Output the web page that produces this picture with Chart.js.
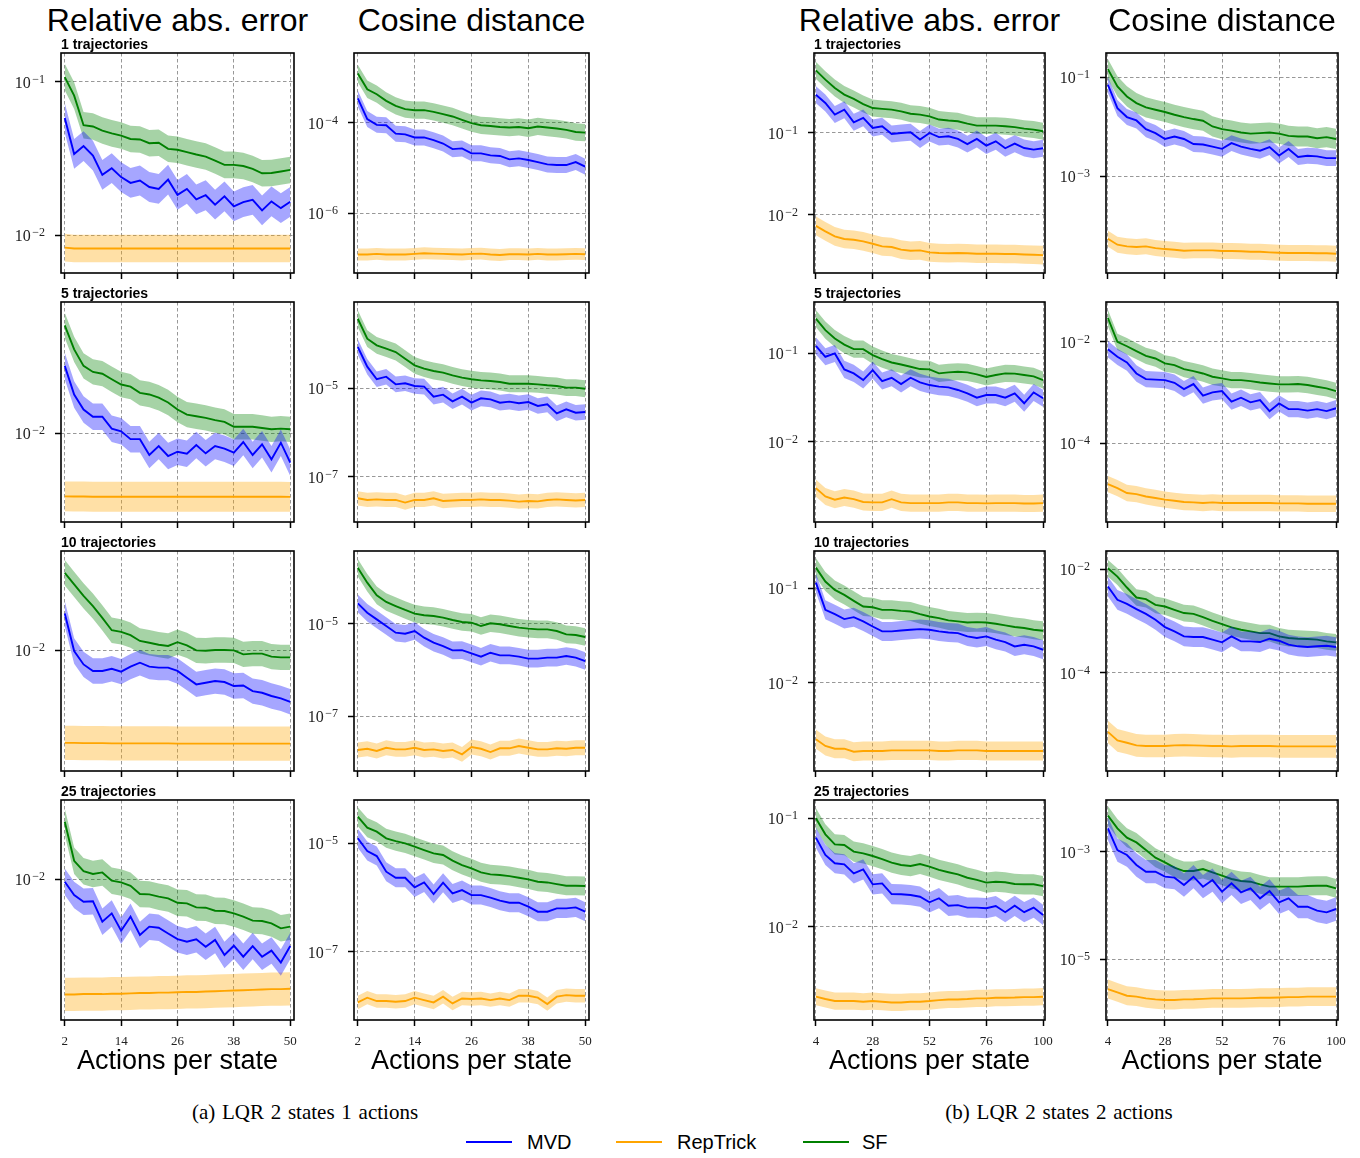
<!DOCTYPE html>
<html>
<head>
<meta charset="utf-8">
<title>LQR estimator errors</title>
<script src="https://cdn.jsdelivr.net/npm/chart.js@4.4.0/dist/chart.umd.min.js"></script>
<style>
body { margin: 0; background: #fff; }
#page { position: relative; width: 1360px; height: 1158px; overflow: hidden; font-family: "Liberation Sans", Arial, sans-serif; color: #000; }
#page canvas { position: absolute; }
.colTitle { position: absolute; top: 1px; width: 320px; text-align: center; font-size: 32px; line-height: 38px; white-space: nowrap; }
.traj { position: absolute; font-size: 14px; font-weight: bold; line-height: 16px; white-space: nowrap; }
.xlab { position: absolute; top: 1045px; width: 320px; text-align: center; font-size: 27px; line-height: 31px; white-space: nowrap; }
.caption { position: absolute; top: 1099px; width: 400px; text-align: center; font-family: "Liberation Serif", "Times New Roman", serif; font-size: 21px; word-spacing: 1.5px; line-height: 26px; }
.leg { position: absolute; top: 1130px; font-size: 20px; line-height: 24px; }
.legLine { position: absolute; top: 1141px; width: 46px; height: 2px; }
</style>
</head>
<body>
<div id="page"></div>
<script>
// x values (actions per state)
var xLeft = [2,4,6,8,10,12,14,16,18,20,22,24,26,28,30,32,34,36,38,40,42,44,46,48,50];
var xRight = [4,8,12,16,20,24,28,32,36,40,44,48,52,56,60,64,68,72,76,80,84,88,92,96,100];
var xTicksLeft = [2,14,26,38,50];
var xTicksRight = [4,28,52,76,100];

var colTitles = ['Relative abs. error', 'Cosine distance', 'Relative abs. error', 'Cosine distance'];
var trajLabels = ['1 trajectories', '5 trajectories', '10 trajectories', '25 trajectories'];
var captions = ['(a) LQR 2 states 1 actions', '(b) LQR 2 states 2 actions'];
var seriesNames = ['MVD', 'RepTrick', 'SF'];

// ---- 1 trajectory ----
var mvdARel1 = [0.058,0.0338,0.038,0.033,0.0247,0.0273,0.0239,0.0219,0.0227,0.0206,0.020,0.023,0.0183,0.020,0.0171,0.0182,0.0158,0.0179,0.0154,0.0164,0.017,0.0145,0.0166,0.015,0.0165];
var repARel1 = [0.0083,0.0082,0.0082,0.0082,0.0082,0.0082,0.0082,0.0082,0.0082,0.0082,0.0082,0.0082,0.0082,0.0082,0.0082,0.0082,0.0082,0.0082,0.0082,0.0082,0.0082,0.0082,0.0082,0.0082,0.0082];
var sfARel1 = [0.107,0.081,0.052,0.051,0.048,0.046,0.0445,0.0423,0.042,0.0397,0.040,0.0365,0.036,0.0347,0.0335,0.0325,0.0306,0.0287,0.0287,0.0282,0.027,0.0253,0.0254,0.026,0.0266];
var spreadARel1 = [1.25, 1.23, 1.22];
var yExpARel1 = [-2.246, -0.814];
var decARel1 = [-1, -2];

var mvdACos1 = [3.4e-4,1.19e-4,8.9e-5,8.7e-5,5.7e-5,5.5e-5,4.7e-5,4.7e-5,4.1e-5,3.45e-5,2.6e-5,2.7e-5,2.1e-5,2.1e-5,1.9e-5,1.84e-5,1.55e-5,1.63e-5,1.5e-5,1.35e-5,1.2e-5,1.16e-5,1.16e-5,1.35e-5,1.07e-5];
var repACos1 = [1.25e-7,1.25e-7,1.29e-7,1.25e-7,1.25e-7,1.25e-7,1.29e-7,1.33e-7,1.31e-7,1.29e-7,1.27e-7,1.25e-7,1.29e-7,1.31e-7,1.25e-7,1.22e-7,1.27e-7,1.27e-7,1.25e-7,1.29e-7,1.25e-7,1.25e-7,1.27e-7,1.29e-7,1.27e-7];
var sfACos1 = [1.2e-3,5.4e-4,4.2e-4,3.0e-4,2.33e-4,1.97e-4,1.87e-4,1.87e-4,1.72e-4,1.53e-4,1.36e-4,1.15e-4,9.7e-5,8.7e-5,8.4e-5,8.0e-5,7.76e-5,8.0e-5,7.5e-5,8.2e-5,7.76e-5,7.4e-5,6.9e-5,6.2e-5,6.0e-5];
var spreadACos1 = [1.5, 1.35, 1.55];
var yExpACos1 = [-7.31, -2.47];
var decACos1 = [-4, -6];

var mvdBRel1 = [0.294,0.233,0.168,0.193,0.135,0.153,0.115,0.121,0.097,0.100,0.102,0.083,0.100,0.089,0.091,0.0845,0.073,0.0845,0.070,0.079,0.065,0.074,0.0655,0.0625,0.065];
var repBRel1 = [0.0073,0.00625,0.00543,0.00504,0.00494,0.00471,0.00441,0.00409,0.00402,0.00373,0.00362,0.00366,0.00346,0.0034,0.00337,0.0034,0.00337,0.00333,0.00333,0.00333,0.0033,0.0033,0.00326,0.00323,0.0032];
var sfBRel1 = [0.585,0.45,0.356,0.295,0.261,0.226,0.202,0.197,0.193,0.184,0.172,0.168,0.16,0.146,0.142,0.139,0.13,0.123,0.123,0.123,0.121,0.118,0.113,0.11,0.105];
var spreadBRel1 = [1.27, 1.3, 1.27];
var yExpBRel1 = [-2.714, -0.021];
var decBRel1 = [-1, -2];

var mvdBCos1 = [0.071,0.024,0.0158,0.0135,0.009,0.0075,0.0057,0.0064,0.0057,0.0045,0.0044,0.004,0.0036,0.0047,0.004,0.0036,0.0033,0.0039,0.00265,0.00357,0.00246,0.00262,0.00254,0.00234,0.00234];
var repBCos1 = [5.5e-5,4.17e-5,3.86e-5,3.74e-5,3.86e-5,3.56e-5,3.4e-5,3.3e-5,3.15e-5,3.2e-5,3.2e-5,3.2e-5,3.1e-5,3.1e-5,3.07e-5,3.0e-5,3.0e-5,2.92e-5,2.87e-5,2.83e-5,2.83e-5,2.83e-5,2.79e-5,2.79e-5,2.74e-5];
var sfBCos1 = [0.147,0.0658,0.0413,0.0303,0.0248,0.0222,0.02,0.0176,0.0158,0.0144,0.0133,0.0102,0.009,0.0084,0.0077,0.0073,0.0075,0.0077,0.0073,0.0066,0.0064,0.0064,0.0059,0.0062,0.0057];
var spreadBCos1 = [1.45, 1.45, 1.6];
var yExpBCos1 = [-4.952, -0.507];
var decBCos1 = [-1, -3];

// ---- 5 trajectories ----
var mvdARel5 = [0.0264,0.0175,0.0141,0.0127,0.0127,0.0107,0.0103,0.0092,0.0092,0.00733,0.00833,0.00722,0.00768,0.00746,0.00846,0.0075,0.00833,0.00802,0.00757,0.00883,0.00733,0.00854,0.00688,0.00874,0.00656];
var repARel5 = [0.00404,0.00403,0.00403,0.00402,0.00402,0.00402,0.00402,0.00402,0.00402,0.00402,0.00402,0.00402,0.00402,0.00402,0.00402,0.00402,0.00402,0.00402,0.00402,0.00402,0.00402,0.00402,0.00402,0.00402,0.00401];
var sfARel5 = [0.0473,0.0335,0.0264,0.0242,0.0236,0.0218,0.0202,0.0196,0.0179,0.0175,0.0167,0.0156,0.0141,0.0131,0.0128,0.0125,0.0121,0.0118,0.011,0.011,0.011,0.0108,0.0106,0.0107,0.0106];
var spreadARel5 = [1.21, 1.24, 1.2];
var yExpARel5 = [-2.554, -1.179];
var decARel5 = [-2];

var mvdACos5 = [8.55e-5,3.08e-5,1.6e-5,1.83e-5,1.23e-5,1.3e-5,1.13e-5,1.09e-5,6.5e-6,7.2e-6,5.1e-6,6.5e-6,4.75e-6,5.95e-6,5.65e-6,4.75e-6,5.0e-6,4.6e-6,4.9e-6,4.0e-6,4.35e-6,2.73e-6,3.36e-6,2.82e-6,2.92e-6];
var repACos5 = [3.3e-8,3.03e-8,3.13e-8,3.03e-8,3.03e-8,2.64e-8,3.03e-8,3.03e-8,3.3e-8,2.87e-8,2.95e-8,3.03e-8,3.03e-8,3.13e-8,3.03e-8,3.03e-8,2.93e-8,2.78e-8,2.87e-8,2.82e-8,3.03e-8,3.13e-8,3.03e-8,2.95e-8,3.03e-8];
var sfACos5 = [3.72e-4,1.32e-4,9.33e-5,7.85e-5,6.6e-5,4.67e-5,3.3e-5,2.78e-5,2.46e-5,2.26e-5,1.96e-5,1.74e-5,1.6e-5,1.51e-5,1.46e-5,1.39e-5,1.27e-5,1.27e-5,1.27e-5,1.23e-5,1.17e-5,1.13e-5,1.035e-5,1.035e-5,9.8e-6];
var spreadACos5 = [1.5, 1.45, 1.55];
var yExpACos5 = [-8.016, -3.052];
var decACos5 = [-5, -7];

var mvdBRel5 = [0.122,0.0917,0.1,0.0659,0.0594,0.0499,0.0647,0.0486,0.053,0.045,0.053,0.047,0.0438,0.042,0.0412,0.0385,0.0353,0.0315,0.0337,0.0337,0.0315,0.0353,0.0272,0.0361,0.031];
var repBRel5 = [0.00296,0.00238,0.00219,0.00232,0.00222,0.00206,0.00204,0.00204,0.00222,0.00204,0.002,0.002,0.002,0.002,0.00204,0.00204,0.002,0.002,0.00199,0.002,0.002,0.002,0.00198,0.00198,0.002];
var sfBRel5 = [0.249,0.184,0.148,0.126,0.112,0.112,0.0958,0.0863,0.079,0.075,0.0706,0.0665,0.0659,0.0594,0.061,0.062,0.061,0.0578,0.054,0.0569,0.0594,0.059,0.0569,0.055,0.0499];
var spreadBRel5 = [1.25, 1.25, 1.25];
var yExpBRel5 = [-2.913, -0.416];
var decBRel5 = [-1, -2];

var mvdBCos5 = [0.00717,0.00507,0.00392,0.00238,0.00184,0.0018,0.00176,0.00156,0.00117,0.00147,0.00087,0.00101,0.00107,0.00066,0.00079,0.00064,0.00071,0.00043,0.00061,0.00047,0.00047,0.00044,0.00047,0.00043,0.00049];
var repBCos5 = [1.56e-5,1.3e-5,1.04e-5,9.9e-6,8.9e-6,8.3e-6,7.7e-6,7.3e-6,6.9e-6,6.8e-6,6.6e-6,6.8e-6,6.6e-6,6.6e-6,6.6e-6,6.6e-6,6.6e-6,6.6e-6,6.5e-6,6.5e-6,6.5e-6,6.4e-6,6.4e-6,6.4e-6,6.4e-6];
var sfBCos5 = [0.0296,0.01,0.0082,0.00655,0.0053,0.0047,0.00375,0.00348,0.0029,0.00265,0.00238,0.00205,0.0019,0.00176,0.00176,0.00168,0.00158,0.00151,0.00145,0.00145,0.00147,0.00141,0.0013,0.00121,0.00107];
var spreadBCos5 = [1.45, 1.45, 1.45];
var yExpBCos5 = [-5.555, -1.213];
var decBCos5 = [-2, -4];

// ---- 10 trajectories ----
var mvdARel10 = [0.0169,0.00986,0.00813,0.0074,0.0074,0.00764,0.00733,0.00787,0.00833,0.00787,0.00776,0.00776,0.0074,0.00672,0.0061,0.00625,0.0064,0.00631,0.00596,0.006,0.00554,0.00541,0.00516,0.00499,0.00475];
var repARel10 = [0.00263,0.00263,0.00262,0.00262,0.00262,0.00261,0.00261,0.00261,0.00261,0.00261,0.00261,0.00261,0.0026,0.0026,0.0026,0.0026,0.0026,0.0026,0.0026,0.0026,0.0026,0.0026,0.0026,0.0026,0.0026];
var sfARel10 = [0.0304,0.0257,0.0218,0.0188,0.0159,0.0133,0.013,0.0124,0.0114,0.0111,0.0108,0.0106,0.0112,0.0107,0.00995,0.0099,0.01,0.01,0.00995,0.0094,0.0095,0.0095,0.0091,0.009,0.009];
var spreadARel10 = [1.2, 1.28, 1.2];
var yExpARel10 = [-2.756, -1.381];
var decARel10 = [-2];

var mvdACos10 = [2.75e-5,1.73e-5,1.24e-5,8.9e-6,6.38e-6,6.07e-6,6.93e-6,4.98e-6,3.88e-6,3.28e-6,2.64e-6,2.68e-6,2.28e-6,1.93e-6,2.35e-6,2.06e-6,2.06e-6,1.93e-6,1.75e-6,1.75e-6,1.84e-6,1.84e-6,2.0e-6,1.84e-6,1.55e-6];
var repACos10 = [1.84e-8,1.96e-8,1.75e-8,2.06e-8,1.9e-8,1.9e-8,2.06e-8,1.84e-8,1.9e-8,1.75e-8,1.84e-8,1.48e-8,2.13e-8,1.96e-8,1.66e-8,2.0e-8,2.0e-8,2.24e-8,2.06e-8,1.9e-8,1.9e-8,2.0e-8,1.96e-8,2.06e-8,2.06e-8];
var sfACos10 = [1.63e-4,7.73e-5,4.11e-5,2.95e-5,2.41e-5,1.98e-5,1.65e-5,1.52e-5,1.47e-5,1.35e-5,1.2e-5,1.09e-5,1.05e-5,8.9e-6,1.02e-5,9.7e-6,8.9e-6,8.2e-6,7.8e-6,7.53e-6,7.53e-6,6.93e-6,5.87e-6,5.69e-6,5.14e-6];
var spreadACos10 = [1.55, 1.45, 1.55];
var yExpACos10 = [-8.19, -3.426];
var decACos10 = [-5, -7];

var mvdBRel10 = [0.1147,0.0591,0.0532,0.0472,0.0495,0.0446,0.0394,0.035,0.035,0.0358,0.0364,0.037,0.0364,0.035,0.0341,0.0336,0.031,0.0298,0.031,0.0286,0.027,0.0243,0.0253,0.0243,0.0224];
var repBRel10 = [0.00254,0.00216,0.00202,0.00202,0.00188,0.00191,0.00191,0.00191,0.00194,0.00194,0.00194,0.00194,0.00194,0.00191,0.00191,0.00194,0.00194,0.00194,0.00191,0.00191,0.00191,0.00191,0.00191,0.00191,0.00191];
var sfBRel10 = [0.165,0.1175,0.096,0.085,0.0736,0.0641,0.063,0.0591,0.0591,0.0577,0.0568,0.0532,0.0503,0.0483,0.0457,0.0446,0.0435,0.0438,0.0435,0.0422,0.0405,0.0389,0.038,0.0364,0.0356];
var spreadBRel10 = [1.26, 1.26, 1.26];
var yExpBRel10 = [-2.93, -0.607];
var decBRel10 = [-1, -2];

var mvdBCos10 = [0.00465,0.00257,0.00215,0.0017,0.00138,0.00106,0.000767,0.000632,0.000507,0.000492,0.000492,0.000438,0.000389,0.000507,0.000406,0.000406,0.000394,0.000457,0.000418,0.000351,0.000326,0.000316,0.000326,0.000335,0.000316];
var repBCos10 = [7.3e-6,5.0e-6,4.5e-6,4.0e-6,3.9e-6,3.9e-6,3.9e-6,4.0e-6,4.05e-6,4.0e-6,3.95e-6,3.9e-6,3.9e-6,3.83e-6,3.9e-6,3.9e-6,3.9e-6,3.9e-6,3.83e-6,3.83e-6,3.83e-6,3.83e-6,3.83e-6,3.83e-6,3.83e-6];
var sfBCos10 = [0.01045,0.00723,0.00444,0.00285,0.00265,0.00206,0.00191,0.00165,0.00143,0.00138,0.00119,0.00101,0.000875,0.000755,0.000681,0.000632,0.000587,0.000587,0.000507,0.000471,0.000457,0.000451,0.000438,0.000406,0.000389];
var spreadBCos10 = [1.55, 1.65, 1.45];
var yExpBCos10 = [-5.892, -1.648];
var decBCos10 = [-2, -4];

// ---- 25 trajectories ----
var mvdARel25 = [0.00962,0.00794,0.00722,0.00727,0.00541,0.0061,0.00475,0.00582,0.00447,0.00504,0.00496,0.00457,0.00421,0.00406,0.0042,0.00377,0.00416,0.00335,0.00383,0.00327,0.00381,0.00327,0.00357,0.00301,0.00381];
var repARel25 = [0.0019,0.0019,0.00191,0.00191,0.00191,0.00192,0.00192,0.00193,0.00194,0.00194,0.00195,0.00195,0.00196,0.00197,0.00197,0.00198,0.00199,0.002,0.00201,0.00202,0.00203,0.00204,0.00205,0.00205,0.00206];
var sfARel25 = [0.0228,0.013,0.0112,0.01075,0.011,0.00977,0.00953,0.00908,0.00806,0.00802,0.00776,0.00757,0.00711,0.00705,0.00665,0.00662,0.00634,0.00631,0.0061,0.00582,0.0055,0.00547,0.00528,0.00492,0.00504];
var spreadARel25 = [1.21, 1.27, 1.21];
var yExpARel25 = [-2.881, -1.506];
var decARel25 = [-2];

var mvdACos25 = [1.24e-5,7.22e-6,5.83e-6,3.0e-6,2.32e-6,2.32e-6,1.54e-6,1.9e-6,1.16e-6,1.88e-6,1.19e-6,1.37e-6,1.11e-6,1.11e-6,1.0e-6,8.75e-7,8.03e-7,8.03e-7,6.78e-7,5.48e-7,5.48e-7,6.31e-7,6.31e-7,6.58e-7,5.48e-7];
var repACos25 = [1.16e-8,1.42e-8,1.23e-8,1.23e-8,1.19e-8,1.23e-8,1.42e-8,1.28e-8,1.16e-8,1.48e-8,1.11e-8,1.37e-8,1.34e-8,1.37e-8,1.28e-8,1.37e-8,1.28e-8,1.54e-8,1.54e-8,1.42e-8,1.08e-8,1.48e-8,1.58e-8,1.54e-8,1.54e-8];
var sfACos25 = [3.1e-5,1.95e-5,1.64e-5,1.24e-5,1.1e-5,1.0e-5,8.68e-6,7.53e-6,6.53e-6,6.09e-6,4.79e-6,3.98e-6,3.45e-6,2.92e-6,2.68e-6,2.6e-6,2.49e-6,2.32e-6,2.16e-6,1.96e-6,1.9e-6,1.77e-6,1.65e-6,1.65e-6,1.63e-6];
var spreadACos25 = [1.5, 1.33, 1.5];
var yExpACos25 = [-8.26, -4.2];
var decACos25 = [-5, -7];

var mvdBRel25 = [0.0663,0.0459,0.0385,0.0376,0.031,0.0338,0.0246,0.0251,0.02,0.0199,0.0196,0.0189,0.0168,0.0183,0.0156,0.0158,0.015,0.015,0.0148,0.0155,0.0136,0.0156,0.0136,0.015,0.0128];
var repBRel25 = [0.00226,0.00215,0.00206,0.00206,0.00206,0.00203,0.00206,0.00203,0.002,0.002,0.00203,0.00203,0.00206,0.0021,0.00213,0.00213,0.00215,0.00218,0.00218,0.00221,0.00221,0.00222,0.00224,0.00224,0.00226];
var sfBRel25 = [0.1,0.0712,0.0575,0.0567,0.0493,0.0475,0.0449,0.0421,0.039,0.0371,0.0363,0.0379,0.0358,0.0334,0.0318,0.0304,0.0283,0.027,0.0255,0.026,0.0257,0.0248,0.0246,0.0246,0.0237];
var spreadBRel25 = [1.24, 1.2, 1.24];
var yExpBRel25 = [-2.861, -0.831];
var decBRel25 = [-1, -2];

var mvdBCos25 = [0.00272,0.00107,0.000867,0.000565,0.000424,0.000424,0.000342,0.000328,0.000239,0.000342,0.000223,0.000296,0.00018,0.000257,0.000175,0.000207,0.000135,0.000185,0.000114,0.000135,9.44e-5,9.44e-5,7.96e-5,7.41e-5,8.55e-5];
var repBCos25 = [2.76e-6,2.39e-6,2.07e-6,1.99e-6,1.85e-6,1.77e-6,1.72e-6,1.72e-6,1.77e-6,1.78e-6,1.81e-6,1.85e-6,1.85e-6,1.85e-6,1.85e-6,1.87e-6,1.9e-6,1.9e-6,1.92e-6,1.95e-6,1.95e-6,1.99e-6,1.99e-6,1.99e-6,1.99e-6];
var sfBCos25 = [0.00469,0.00272,0.00182,0.00149,0.00107,0.000773,0.000632,0.000503,0.000436,0.000436,0.000475,0.000412,0.000357,0.00031,0.000284,0.000276,0.000246,0.000223,0.000223,0.000223,0.000223,0.000229,0.000232,0.000232,0.000207];
var spreadBCos25 = [1.65, 1.5, 1.5];
var yExpBCos25 = [-6.136, -2.037];
var decBCos25 = [-3, -5];

// layout of the 4x4 grid of panels (page pixels)
var colLeft = [61, 354, 814, 1106];
var colWidth = [233, 235, 231, 232];
var rowTop = [53, 302, 551, 800];
var rowHeight = 220;
var yAxisW = 56;

var lineColors = ['#0000ff', '#ffa500', '#008000'];
var bandColors = ['rgba(0,0,255,0.35)', 'rgba(255,165,0,0.35)', 'rgba(0,128,0,0.35)'];

var panels = [
	{row:0, col:0, mvd:mvdARel1, rep:repARel1, sf:sfARel1, spread:spreadARel1, yExp:yExpARel1, dec:decARel1},
	{row:0, col:1, mvd:mvdACos1, rep:repACos1, sf:sfACos1, spread:spreadACos1, yExp:yExpACos1, dec:decACos1},
	{row:0, col:2, mvd:mvdBRel1, rep:repBRel1, sf:sfBRel1, spread:spreadBRel1, yExp:yExpBRel1, dec:decBRel1},
	{row:0, col:3, mvd:mvdBCos1, rep:repBCos1, sf:sfBCos1, spread:spreadBCos1, yExp:yExpBCos1, dec:decBCos1},
	{row:1, col:0, mvd:mvdARel5, rep:repARel5, sf:sfARel5, spread:spreadARel5, yExp:yExpARel5, dec:decARel5},
	{row:1, col:1, mvd:mvdACos5, rep:repACos5, sf:sfACos5, spread:spreadACos5, yExp:yExpACos5, dec:decACos5},
	{row:1, col:2, mvd:mvdBRel5, rep:repBRel5, sf:sfBRel5, spread:spreadBRel5, yExp:yExpBRel5, dec:decBRel5},
	{row:1, col:3, mvd:mvdBCos5, rep:repBCos5, sf:sfBCos5, spread:spreadBCos5, yExp:yExpBCos5, dec:decBCos5},
	{row:2, col:0, mvd:mvdARel10, rep:repARel10, sf:sfARel10, spread:spreadARel10, yExp:yExpARel10, dec:decARel10},
	{row:2, col:1, mvd:mvdACos10, rep:repACos10, sf:sfACos10, spread:spreadACos10, yExp:yExpACos10, dec:decACos10},
	{row:2, col:2, mvd:mvdBRel10, rep:repBRel10, sf:sfBRel10, spread:spreadBRel10, yExp:yExpBRel10, dec:decBRel10},
	{row:2, col:3, mvd:mvdBCos10, rep:repBCos10, sf:sfBCos10, spread:spreadBCos10, yExp:yExpBCos10, dec:decBCos10},
	{row:3, col:0, mvd:mvdARel25, rep:repARel25, sf:sfARel25, spread:spreadARel25, yExp:yExpARel25, dec:decARel25},
	{row:3, col:1, mvd:mvdACos25, rep:repACos25, sf:sfACos25, spread:spreadACos25, yExp:yExpACos25, dec:decACos25},
	{row:3, col:2, mvd:mvdBRel25, rep:repBRel25, sf:sfBRel25, spread:spreadBRel25, yExp:yExpBRel25, dec:decBRel25},
	{row:3, col:3, mvd:mvdBCos25, rep:repBCos25, sf:sfBCos25, spread:spreadBCos25, yExp:yExpBCos25, dec:decBCos25}
];

// frame round the plot area + "10^e" labels drawn with a raised exponent
var framePlugin = {
	id: 'frame',
	afterDraw: function (chart) {
		var a = chart.chartArea;
		var ctx = chart.ctx;
		var ys = chart.scales.y;
		ctx.save();
		ctx.strokeStyle = '#000';
		ctx.lineWidth = 1.6;
		ctx.strokeRect(a.left, a.top, a.right - a.left, a.bottom - a.top);

		ctx.fillStyle = '#222';
		ctx.textBaseline = 'alphabetic';
		ctx.textAlign = 'right';
		ys.ticks.forEach(function (t) {
			var py = ys.getPixelForValue(t.value);
			var e = '\u2212' + Math.abs(Math.round(Math.log10(t.value)));
			ctx.font = '12px "Liberation Serif"';
			var ew = ctx.measureText(e).width;
			var xr = a.left - 16;
			ctx.fillText(e, xr, py + 1);
			ctx.font = '16px "Liberation Serif"';
			ctx.fillText('10', xr - ew - 1.5, py + 6);
		});
		ctx.restore();
	}
};

function points(x, values, factor) {
	var pts = [];
	for (var i = 0; i < values.length; i++) {
		pts.push({x: x[i], y: values[i] * factor});
	}
	return pts;
}

// band (hi filled down to lo) followed by the mean line, for one series
function seriesDatasets(x, values, spread, k, order) {
	return [
		{data: points(x, values, spread), fill: '+1', backgroundColor: bandColors[k], borderWidth: 0, pointRadius: 0, order: order + 1},
		{data: points(x, values, 1 / spread), fill: false, borderWidth: 0, pointRadius: 0, order: order + 1},
		{data: points(x, values, 1), fill: false, borderColor: lineColors[k], borderWidth: 1.9, pointRadius: 0, order: order}
	];
}

function gridOpts() {
	return {color: '#8c8c8c', lineWidth: 0.9, drawTicks: true, tickLength: 6, tickWidth: 1.5, tickColor: '#000', tickBorderDash: []};
}

function fixSize(s, w, h) {
	if (w !== null) s.width = w;
	if (h !== null) s.height = h;
	s.paddingLeft = 0;
	s.paddingRight = 0;
	s.paddingTop = 0;
	s.paddingBottom = 0;
}

function buildPanel(page, p) {
	var right = p.col >= 2;
	var x = right ? xRight : xLeft;
	var xTicks = right ? xTicksRight : xTicksLeft;
	var bottomRow = p.row === 3;
	var xAxisH = bottomRow ? 30 : 8;
	var W = colWidth[p.col] + yAxisW + 12;
	var H = rowHeight + 4 + xAxisH;

	var canvas = document.createElement('canvas');
	canvas.width = W;
	canvas.height = H;
	canvas.style.left = (colLeft[p.col] - yAxisW) + 'px';
	canvas.style.top = (rowTop[p.row] - 4) + 'px';
	canvas.style.width = W + 'px';
	canvas.style.height = H + 'px';
	page.appendChild(canvas);

	var datasets = []
		.concat(seriesDatasets(x, p.sf, p.spread[2], 2, 5))
		.concat(seriesDatasets(x, p.rep, p.spread[1], 1, 3))
		.concat(seriesDatasets(x, p.mvd, p.spread[0], 0, 1));

	new Chart(canvas, {
		type: 'line',
		data: {datasets: datasets},
		plugins: [framePlugin],
		options: {
			responsive: false,
			animation: false,
			events: [],
			layout: {padding: {left: 0, top: 4, right: 12, bottom: 0}, autoPadding: false},
			plugins: {legend: {display: false}, tooltip: {enabled: false}},
			scales: {
				x: {
					type: 'linear',
					bounds: 'data',
					min: right ? 3.2 : 1.2,
					max: right ? 100.8 : 50.8,
					afterBuildTicks: function (s) { s.ticks = xTicks.map(function (v) { return {value: v}; }); },
					afterFit: function (s) { fixSize(s, null, xAxisH); },
					grid: gridOpts(),
					border: {display: false, dash: [3.5, 2.5]},
					ticks: {
						display: bottomRow,
						autoSkip: false,
						maxRotation: 0,
						padding: 8,
						color: '#222',
						font: {family: 'Liberation Serif', size: 13},
						callback: function (v) { return String(v); }
					}
				},
				y: {
					type: 'logarithmic',
					bounds: 'data',
					min: Math.pow(10, p.yExp[0]),
					max: Math.pow(10, p.yExp[1]),
					afterBuildTicks: function (s) { s.ticks = p.dec.map(function (e) { return {value: Math.pow(10, e)}; }); },
					afterFit: function (s) { fixSize(s, yAxisW, null); },
					grid: gridOpts(),
					border: {display: false, dash: [3.5, 2.5]},
					ticks: {display: false}
				}
			}
		}
	});
}

function addText(page, cls, text, left, top) {
	var d = document.createElement('div');
	d.className = cls;
	d.textContent = text;
	d.style.left = left + 'px';
	if (top !== undefined) d.style.top = top + 'px';
	page.appendChild(d);
	return d;
}

function buildPage() {
	var page = document.getElementById('page');
	var i;
	for (i = 0; i < panels.length; i++) buildPanel(page, panels[i]);

	for (i = 0; i < 4; i++) {
		var centre = colLeft[i] + colWidth[i] / 2;
		addText(page, 'colTitle', colTitles[i], centre - 160);
		addText(page, 'xlab', 'Actions per state', centre - 160);
	}
	for (i = 0; i < 4; i++) {
		addText(page, 'traj', trajLabels[i], colLeft[0], rowTop[i] - 17);
		addText(page, 'traj', trajLabels[i], colLeft[2], rowTop[i] - 17);
	}
	addText(page, 'caption', captions[0], 305 - 200);
	addText(page, 'caption', captions[1], 1059 - 200);

	var legLineX = [466, 616, 803];
	var legTextX = [527, 677, 862];
	for (i = 0; i < 3; i++) {
		var ln = document.createElement('div');
		ln.className = 'legLine';
		ln.style.left = legLineX[i] + 'px';
		ln.style.background = lineColors[i];
		page.appendChild(ln);
		addText(page, 'leg', seriesNames[i], legTextX[i]);
	}
}

buildPage();
</script>
</body>
</html>
